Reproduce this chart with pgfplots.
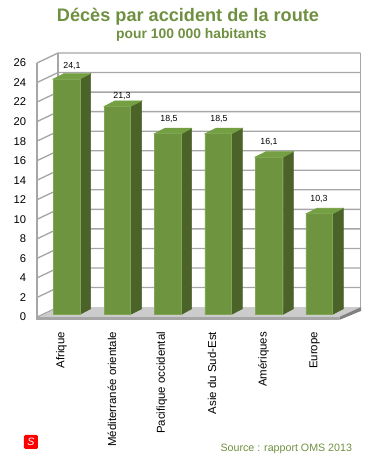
\documentclass[border=0pt]{standalone}
\usepackage{fontspec}
\setmainfont{Liberation Sans}
\usepackage{pgfplots}
\usepackage{pgfplotstable}
\pgfplotsset{compat=1.18}
\definecolor{titlegreen}{HTML}{6F9040}
\definecolor{barfront}{HTML}{6E9440}
\definecolor{baredge}{HTML}{7FA653}
\definecolor{barside}{HTML}{4B6329}
\definecolor{bartop}{HTML}{74A043}
\definecolor{gridgray}{HTML}{A6A6A6}
\pgfplotstableread{
x lx v ly
66.7 72 24.1 25.43
117.5 122 21.3 22.32
168 169 18.5 20
218.3 219 18.5 20
269 269 16.1 17.6
319.3 319 10.3 11.8
}\datatable
\newcommand\gl[2]{\addplot[gridgray,line width=1pt,forget plot] coordinates {(37,#1) (58,#2) (360.3,#2)};}
% x0 x1 x2 x3 v vback
\newcommand\threed[6]{%
\addplot[fill=barside,draw=barside,forget plot] coordinates {(#2,0) (#3,0.56) (#3,#6) (#2,#5)} --cycle;
\addplot[fill=bartop,draw=bartop,forget plot] coordinates {(#1,#5) (#2,#5) (#3,#6) (#4,#6)} --cycle;
}
\begin{document}
\begin{tikzpicture}[x=1pt,y=1pt]
\useasboundingbox (0,0) rectangle (282.75,352.5);
\begin{axis}[
  at={(27.75pt,114.75pt)},anchor=south west,
  scale only axis,width=242.25pt,height=190.5pt,
  xmin=37,xmax=360,ymin=0,ymax=26,
  clip=false,
  axis lines=none,
  hide x axis=false,hide y axis=false,
  axis line style={draw=none},
  tick style={draw=none},
  xtick={61.5,112,162,212,263.5,314.5},
  xticklabels={Afrique,Méditerranée orientale,Pacifique occidental,Asie du Sud-Est,Amériques,Europe},
  xticklabel style={rotate=90,anchor=east,font=\fontsize{8.6pt}{10pt}\selectfont,xshift=-11pt,inner sep=0pt},
  ytick={0,2,...,26},
  yticklabel style={anchor=east,font=\fontsize{8.4pt}{10pt}\selectfont,xshift=-8pt,inner sep=0pt},
  /pgf/number format/assume math mode=true,
]
% floor
\addplot[fill=black!20,draw=none,forget plot] coordinates {(37,0) (339.3,0) (361,1.02) (58,1.02)} --cycle;
\addplot[fill=gridgray,draw=none,forget plot] coordinates {(37,0) (339.3,0) (339.3,-0.3) (37,-0.3)} --cycle;
\addplot[fill=gray,draw=none,forget plot] coordinates {(339.3,0) (361,1.02) (361,0.62) (339.3,-0.3)} --cycle;
% walls
\gl{2}{3.02}\gl{4}{5.02}\gl{6}{7.02}\gl{8}{9.02}\gl{10}{11.02}\gl{12}{13.02}\gl{14}{15.02}
\gl{16}{17.02}\gl{18}{19.02}\gl{20}{21.02}\gl{22}{23.02}\gl{24}{25.02}\gl{26}{27.02}
\addplot[gridgray,line width=0.8pt,forget plot] coordinates {(37,26) (37,-0.3)};
\addplot[gridgray,line width=0.8pt,forget plot] coordinates {(58,27.02) (58,1.02)};
\addplot[gridgray,line width=0.8pt,forget plot] coordinates {(360.3,27.02) (360.3,1.02)};
\addplot[gridgray,line width=0.8pt,forget plot] coordinates {(37,0) (58,1.02)};
\end{axis}
\begin{axis}[
  at={(27.75pt,114.75pt)},anchor=south west,
  scale only axis,width=242.25pt,height=190.5pt,
  xmin=37,xmax=360,ymin=-0.277,ymax=25.74,
  clip=false,hide axis,
]
\threed{53.3}{80}{90.7}{64}{24.1}{24.66}
\threed{104.3}{130.7}{141.7}{115}{21.3}{21.86}
\threed{154.3}{181.7}{191.7}{165}{18.5}{19.06}
\threed{205}{231.7}{242.3}{216}{18.5}{19.06}
\threed{255}{283.3}{293.3}{266}{16.1}{16.66}
\threed{306}{332.7}{343.3}{317}{10.3}{10.86}
\addplot[ybar,bar width=20pt,bar shift=0pt,fill=barfront,draw=baredge,line width=0.7pt,forget plot] table[x=x,y=v] {\datatable};
\addplot[draw=none,mark=none,forget plot,
  point meta=explicit,
  nodes near coords,
  every node near coord/.append style={anchor=center,inner sep=0pt,font=\fontsize{6.6pt}{8pt}\selectfont,text=black,
    /pgf/number format/.cd,use comma,fixed,fixed zerofill,precision=1,assume math mode=true},
] table[x=lx,y=ly,meta=v] {\datatable};
\end{axis}
\node[anchor=center,font=\bfseries\fontsize{13.6pt}{16pt}\selectfont,text=titlegreen] at (141,339.7) {Décès par accident de la route};
\node[anchor=center,font=\bfseries\fontsize{10.4pt}{12pt}\selectfont,text=titlegreen] at (143.5,326) {pour 100 000 habitants};
\node[anchor=center,font=\fontsize{8pt}{10pt}\selectfont,text=titlegreen] at (214.7,15.7) {Source : rapport OMS 2013};
\node[fill=red,rounded corners=1pt,minimum size=10.5pt,inner sep=0pt,text=white,font=\fontsize{8pt}{8pt}\selectfont\itshape] at (23.2,21) {S};
\end{tikzpicture}
\end{document}
